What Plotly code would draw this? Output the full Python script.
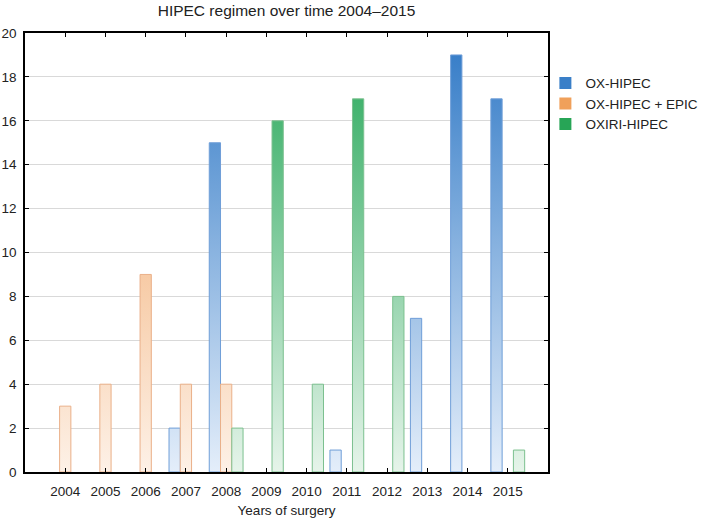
import plotly.graph_objects as go

years = ["2004", "2005", "2006", "2007", "2008", "2009", "2010", "2011", "2012", "2013", "2014", "2015"]
ox_hipec = [0, 0, 0, 2, 15, 0, 0, 1, 0, 7, 19, 17]
ox_hipec_epic = [3, 4, 9, 4, 4, 0, 0, 0, 0, 0, 0, 0]
oxiri_hipec = [0, 0, 0, 0, 2, 16, 4, 17, 8, 0, 0, 1]
y_ticks = [0, 2, 4, 6, 8, 10, 12, 14, 16, 18, 20]

series = [
    ("OX-HIPEC", ox_hipec, -1, "#e4eefa", "#3079c6", "#6f9ed8", "#3a7fc8"),
    ("OX-HIPEC + EPIC", ox_hipec_epic, 0, "#fdf1e7", "#f09c55", "#eab089", "#f0a05a"),
    ("OXIRI-HIPEC", oxiri_hipec, 1, "#e6f4ea", "#25a758", "#7cc08f", "#27a556"),
]

BW = 0.28
FONT = "Liberation Sans, Arial, sans-serif"

fig = go.Figure()
for name, vals, off, c0, c1, edge, legc in series:
    xs, ys = [], []
    for i, v in enumerate(vals):
        if v > 0:
            cx = i + off * BW
            x0, x1 = cx - BW / 2, cx + BW / 2
            xs += [x0, x0, x1, x1, x0, None]
            ys += [0, v, v, 0, 0, None]
    fig.add_trace(go.Scatter(
        x=xs, y=ys, mode="lines", fill="toself",
        line=dict(color=edge, width=1),
        fillgradient=dict(type="vertical", colorscale=[[0, c0], [1, c1]], start=0, stop=20),
        showlegend=False, hoverinfo="skip", name=name,
    ))
    fig.add_trace(go.Bar(x=[None], y=[None], name=name,
                         marker=dict(color=legc, line=dict(width=0)), showlegend=True))

fig.update_layout(
    width=705, height=522,
    margin=dict(l=25, r=157, t=33, b=50, autoexpand=False),
    paper_bgcolor="white", plot_bgcolor="white",
    font=dict(family=FONT, size=13.5, color="#222222"),
    title=dict(text="HIPEC regimen over time 2004–2015", x=(25 + 523 / 2) / 705, xanchor="center",
               yref="container", y=1 - 5 / 522, yanchor="top", font=dict(size=15.5)),
    legend=dict(x=0.995, xanchor="left", y=0.921, yanchor="top", bgcolor="rgba(0,0,0,0)",
                font=dict(size=13.5), tracegroupgap=0),
    showlegend=True,
)
fig.update_xaxes(
    range=[-1, 12], tickmode="array", tickvals=list(range(len(years))), ticktext=years,
    showgrid=False, zeroline=False, showline=True, linecolor="black", linewidth=1.5,
    mirror="ticks", ticks="inside", ticklen=4, tickcolor="black", tickwidth=1,
    automargin=False, ticklabelstandoff=6,
    title=dict(text="Years of surgery", standoff=8, font=dict(size=13.5)),
)
fig.update_yaxes(
    range=[0, 20], tickmode="array", tickvals=y_ticks,
    showgrid=True, gridcolor="#d9d9d9", gridwidth=1, zeroline=False,
    showline=True, linecolor="black", linewidth=1.5,
    mirror="ticks", ticks="inside", ticklen=4, tickcolor="black", tickwidth=1,
    automargin=False, ticklabelstandoff=4,
)

fig.write_html("out.html", config={"displayModeBar": False},
               post_script="document.body.style.margin='0';")
